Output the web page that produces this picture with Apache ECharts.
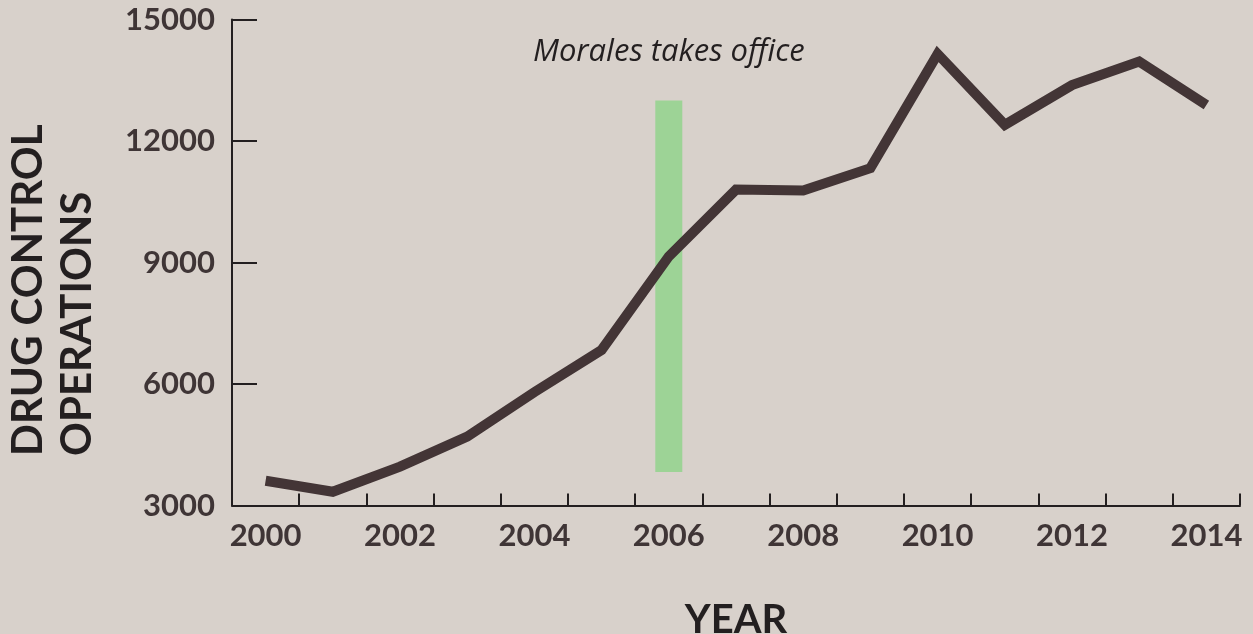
<!DOCTYPE html>
<html>
<head>
<meta charset="utf-8">
<script src="https://cdn.jsdelivr.net/npm/echarts@6/dist/echarts.min.js"></script>
<style>
  html, body { margin: 0; padding: 0; background: #d8d1cb; }
  #chart { width: 1253px; height: 634px; }
</style>
</head>
<body>
<div id="chart"></div>
<script>
// Annual drug control operations, 2000–2014
const years = ['2000', '2001', '2002', '2003', '2004', '2005', '2006', '2007',
               '2008', '2009', '2010', '2011', '2012', '2013', '2014'];
const operations = [3610, 3340, 3960, 4700, 5800, 6840, 9150, 10800,
                    10780, 11330, 14150, 12400, 13380, 13960, 12890];

// Highlight band for the year Morales took office
const moralesYear = '2006';
const moralesLabel = 'Morales takes office';
const bandLow = 3830;
const bandHigh = 13000;

const yTicks = { min: 3000, max: 15000, interval: 3000 };

const ink = '#231f20';
const labelInk = '#3f3536';
const lineColor = '#433536';
const bandColor = '#9dd396';
const font = 'Lato';

const bandBase = years.map(y => (y === moralesYear ? bandLow : null));
const bandSpan = years.map(y => (y === moralesYear ? bandHigh - bandLow : null));

const chart = echarts.init(document.getElementById('chart'));
chart.setOption({
  backgroundColor: '#d8d1cb',
  animation: false,
  grid: { left: 232, right: 13, top: 19.5, bottom: 128.5, outerBoundsMode: 'none', containLabel: false },
  xAxis: {
    type: 'category',
    data: years,
    boundaryGap: true,
    name: 'YEAR',
    nameLocation: 'middle',
    nameGap: 95,
    nameTextStyle: { fontFamily: font, fontWeight: 'bold', fontSize: 40, color: ink },
    axisLine: { show: true, lineStyle: { color: ink, width: 2 } },
    axisTick: { show: true, inside: true, length: 12, interval: 0, alignWithLabel: false,
                lineStyle: { color: ink, width: 2 } },
    axisLabel: { interval: 1, margin: 15, fontFamily: font, fontWeight: 'bold',
                 fontSize: 31, color: labelInk },
    splitLine: { show: false }
  },
  yAxis: {
    type: 'value',
    min: yTicks.min,
    max: yTicks.max,
    interval: yTicks.interval,
    axisLine: { show: true, lineStyle: { color: ink, width: 2 } },
    axisTick: { show: true, inside: true, length: 25, lineStyle: { color: ink, width: 2 } },
    axisLabel: { margin: 17, fontFamily: font, fontWeight: 'bold', fontSize: 31, color: labelInk,
                 formatter: v => String(v) },
    splitLine: { show: false }
  },
  graphic: [{
    type: 'text',
    x: 4,
    y: 456,
    rotation: Math.PI / 2,
    style: {
      text: 'DRUG CONTROL\nOPERATIONS',
      fontFamily: font,
      fontWeight: 'bold',
      fontSize: 42,
      lineHeight: 49,
      fill: ink,
      align: 'left',
      verticalAlign: 'top'
    }
  }],
  series: [
    {
      type: 'bar',
      stack: 'band',
      data: bandBase,
      barWidth: 27,
      itemStyle: { color: 'rgba(0,0,0,0)' },
      silent: true
    },
    {
      type: 'bar',
      stack: 'band',
      data: bandSpan,
      barWidth: 27,
      itemStyle: { color: bandColor },
      label: {
        show: true,
        position: 'top',
        distance: 33,
        formatter: moralesLabel,
        fontFamily: 'Open Sans',
        fontStyle: 'italic',
        fontSize: 31,
        color: ink
      },
      silent: true
    },
    {
      type: 'line',
      data: operations,
      symbol: 'none',
      z: 5,
      lineStyle: { color: lineColor, width: 10, join: 'miter' }
    }
  ]
});
</script>
</body>
</html>
